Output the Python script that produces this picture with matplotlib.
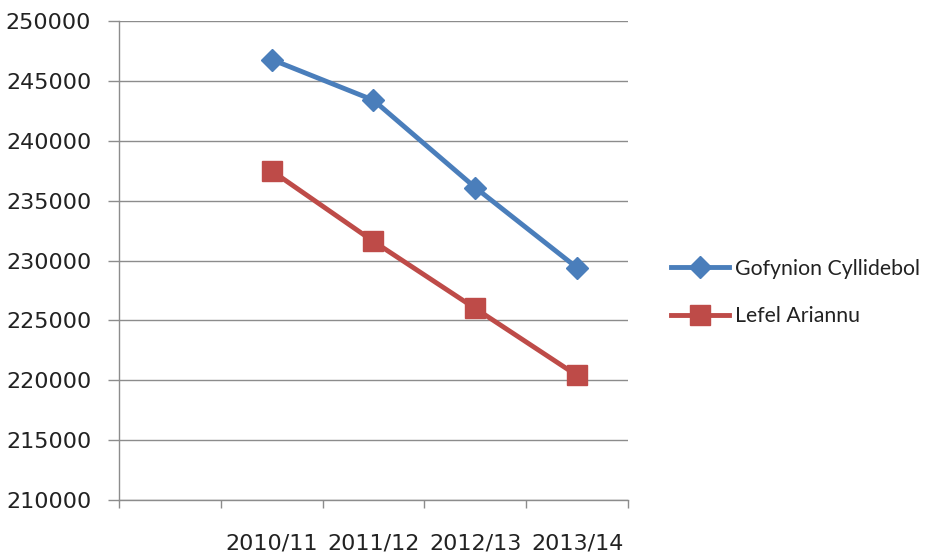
import matplotlib
matplotlib.use("Agg")
import matplotlib.pyplot as plt
from matplotlib.ticker import FixedLocator

categories = ["", "2010/11", "2011/12", "2012/13", "2013/14"]
series_names = ["Gofynion Cyllidebol", "Lefel Ariannu"]
gofynion = [None, 246800, 243400, 236100, 229400]
lefel = [None, 237500, 231600, 226000, 220400]
yticks = [210000, 215000, 220000, 225000, 230000, 235000, 240000, 245000, 250000]

plt.rcParams['font.family'] = ['DejaVu Sans']

fig = plt.figure(figsize=(9.29, 5.58), dpi=100)
ax = fig.add_axes([0.128, 0.104, 0.548, 0.858])

xs = list(range(len(categories)))
gx = [x for x, v in zip(xs, gofynion) if v is not None]
gy = [v for v in gofynion if v is not None]
lx = [x for x, v in zip(xs, lefel) if v is not None]
ly = [v for v in lefel if v is not None]

ax.plot(gx, gy, color='#4A7EBB', lw=3.5, marker='D', markersize=11,
        label=series_names[0], zorder=3)
ax.plot(lx, ly, color='#BE4B48', lw=3.5, marker='s', markersize=14,
        label=series_names[1], zorder=3)

ax.set_xlim(-0.5, len(categories) - 0.5)
ax.set_ylim(210000, 250000)
ax.set_yticks(yticks)
ax.set_yticklabels([str(t) for t in yticks])
ax.yaxis.grid(True, color='#8C8C8C', lw=1)
ax.set_axisbelow(True)

ax.set_xticks(xs)
ax.set_xticklabels(categories)
ax.xaxis.set_minor_locator(FixedLocator([x - 0.5 for x in range(len(categories) + 1)]))
ax.tick_params(axis='x', which='major', length=0, pad=24, labelsize=16, colors='#222222')
ax.tick_params(axis='x', which='minor', length=6, width=1, color='#8C8C8C', direction='out')
ax.tick_params(axis='y', length=8, width=1, color='#8C8C8C', labelsize=16, pad=12, labelcolor='#222222')

for s in ['top', 'right']:
    ax.spines[s].set_visible(False)
for s in ['left', 'bottom']:
    ax.spines[s].set_color('#8C8C8C')
    ax.spines[s].set_linewidth(1)

leg = fig.legend(loc='center left', bbox_to_anchor=(0.702, 0.476), frameon=False,
                 prop={'family': ['Lato', 'DejaVu Sans'], 'size': 15.3},
                 handlelength=2.7, handletextpad=0.3, labelspacing=1.3)
for t in leg.get_texts():
    t.set_color('#222222')

fig.savefig('out.png', dpi=100)
